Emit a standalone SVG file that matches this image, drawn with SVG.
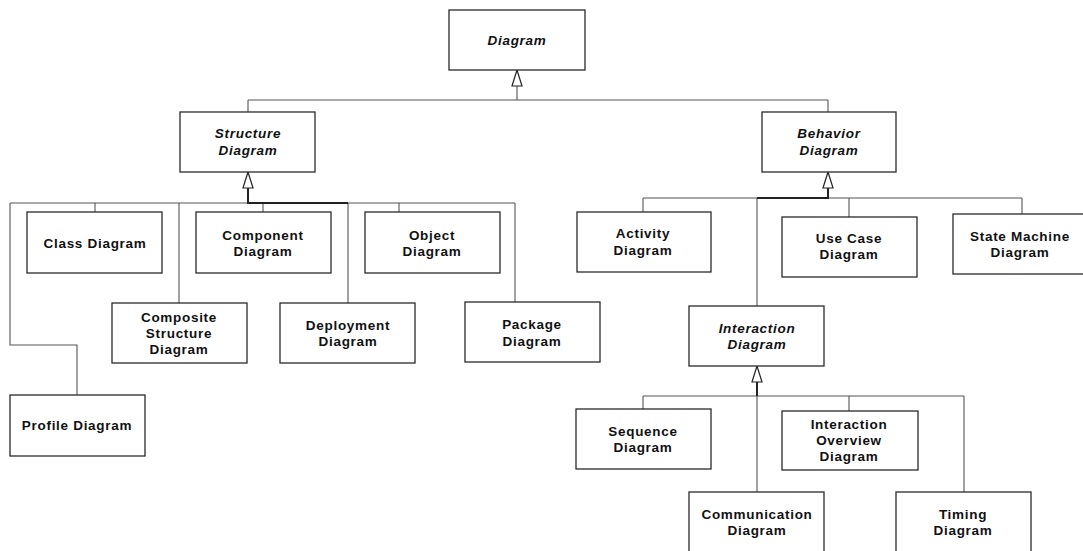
<svg xmlns="http://www.w3.org/2000/svg" width="1083" height="551" viewBox="0 0 1083 551">
<defs>
<style>
.box{fill:#fff;stroke:#2a2a2a;stroke-width:1.3}
.t{font-family:"Liberation Sans",Arial,sans-serif;font-weight:bold;font-size:13.5px;letter-spacing:0.7px;fill:#111;text-anchor:middle}
.i{font-style:italic}
.ln{fill:none;stroke:#555;stroke-width:1.1}
.thk{fill:none;stroke:#222;stroke-width:2}
.tri{fill:#fff;stroke:#222;stroke-width:1.2}
</style>
</defs>
<rect width="1083" height="551" fill="#fff"/>
<g id="connectors">
<path class="ln" d="M517 86 V100 M248 100 H828 M248 100 V112 M828 100 V112"/>
<polygon class="tri" points="517,70 512,86 522,86"/>
<path class="ln" d="M10 203 H515 M95 203 V212 M263 203 V212 M399 203 V212 M179 203 V303 M348 203 V303 M515 203 V302 M10 203 V345 H77 V395"/>
<path class="thk" d="M248 188 V203 H348"/>
<polygon class="tri" points="248,172 243,188 253,188"/>
<path class="ln" d="M643 198 H1022 M643 198 V212 M849 198 V217 M1022 198 V214 M757 198 V306"/>
<path class="thk" d="M828 188 V198 H757"/>
<polygon class="tri" points="828,172 823,188 833,188"/>
<path class="ln" d="M643 396 H964 M643 396 V409 M849 396 V411 M964 396 V492 M757 396 V492"/>
<path class="thk" d="M757 382 V396"/>
<polygon class="tri" points="757,366 752,382 762,382"/>
</g>
<g id="diagram"><rect class="box" x="449" y="10" width="136" height="60"/><text class="t i" x="517" y="45">Diagram</text></g>
<g id="structure"><rect class="box" x="180" y="112" width="135" height="60"/><text class="t i" x="248" y="138">Structure</text><text class="t i" x="248" y="155">Diagram</text></g>
<g id="behavior"><rect class="box" x="762" y="112" width="134" height="60"/><text class="t i" x="829" y="138">Behavior</text><text class="t i" x="829" y="155">Diagram</text></g>
<g id="class"><rect class="box" x="27" y="212" width="135" height="61"/><text class="t" x="95" y="248">Class Diagram</text></g>
<g id="component"><rect class="box" x="196" y="212" width="135" height="61"/><text class="t" x="263" y="240">Component</text><text class="t" x="263" y="256">Diagram</text></g>
<g id="object"><rect class="box" x="365" y="212" width="135" height="61"/><text class="t" x="432" y="240">Object</text><text class="t" x="432" y="256">Diagram</text></g>
<g id="composite"><rect class="box" x="112" y="303" width="135" height="60"/><text class="t" x="179" y="322">Composite</text><text class="t" x="179" y="338">Structure</text><text class="t" x="179" y="354">Diagram</text></g>
<g id="deployment"><rect class="box" x="280" y="303" width="135" height="60"/><text class="t" x="348" y="330">Deployment</text><text class="t" x="348" y="346">Diagram</text></g>
<g id="package"><rect class="box" x="465" y="302" width="135" height="60"/><text class="t" x="532" y="329">Package</text><text class="t" x="532" y="346">Diagram</text></g>
<g id="profile"><rect class="box" x="10" y="395" width="135" height="61"/><text class="t" x="77" y="430">Profile Diagram</text></g>
<g id="activity"><rect class="box" x="577" y="212" width="134" height="60"/><text class="t" x="643" y="238">Activity</text><text class="t" x="643" y="255">Diagram</text></g>
<g id="usecase"><rect class="box" x="782" y="217" width="135" height="60"/><text class="t" x="849" y="243">Use Case</text><text class="t" x="849" y="259">Diagram</text></g>
<g id="statemachine"><rect class="box" x="953" y="214" width="135" height="60"/><text class="t" x="1020" y="241">State Machine</text><text class="t" x="1020" y="257">Diagram</text></g>
<g id="interaction"><rect class="box" x="689" y="306" width="135" height="60"/><text class="t i" x="757" y="333">Interaction</text><text class="t i" x="757" y="349">Diagram</text></g>
<g id="sequence"><rect class="box" x="576" y="409" width="135" height="60"/><text class="t" x="643" y="436">Sequence</text><text class="t" x="643" y="452">Diagram</text></g>
<g id="interactionoverview"><rect class="box" x="782" y="411" width="136" height="59"/><text class="t" x="849" y="429">Interaction</text><text class="t" x="849" y="445">Overview</text><text class="t" x="849" y="461">Diagram</text></g>
<g id="communication"><rect class="box" x="689" y="492" width="135" height="70"/><text class="t" x="757" y="519">Communication</text><text class="t" x="757" y="535">Diagram</text></g>
<g id="timing"><rect class="box" x="896" y="492" width="135" height="70"/><text class="t" x="963" y="519">Timing</text><text class="t" x="963" y="535">Diagram</text></g>
</svg>
